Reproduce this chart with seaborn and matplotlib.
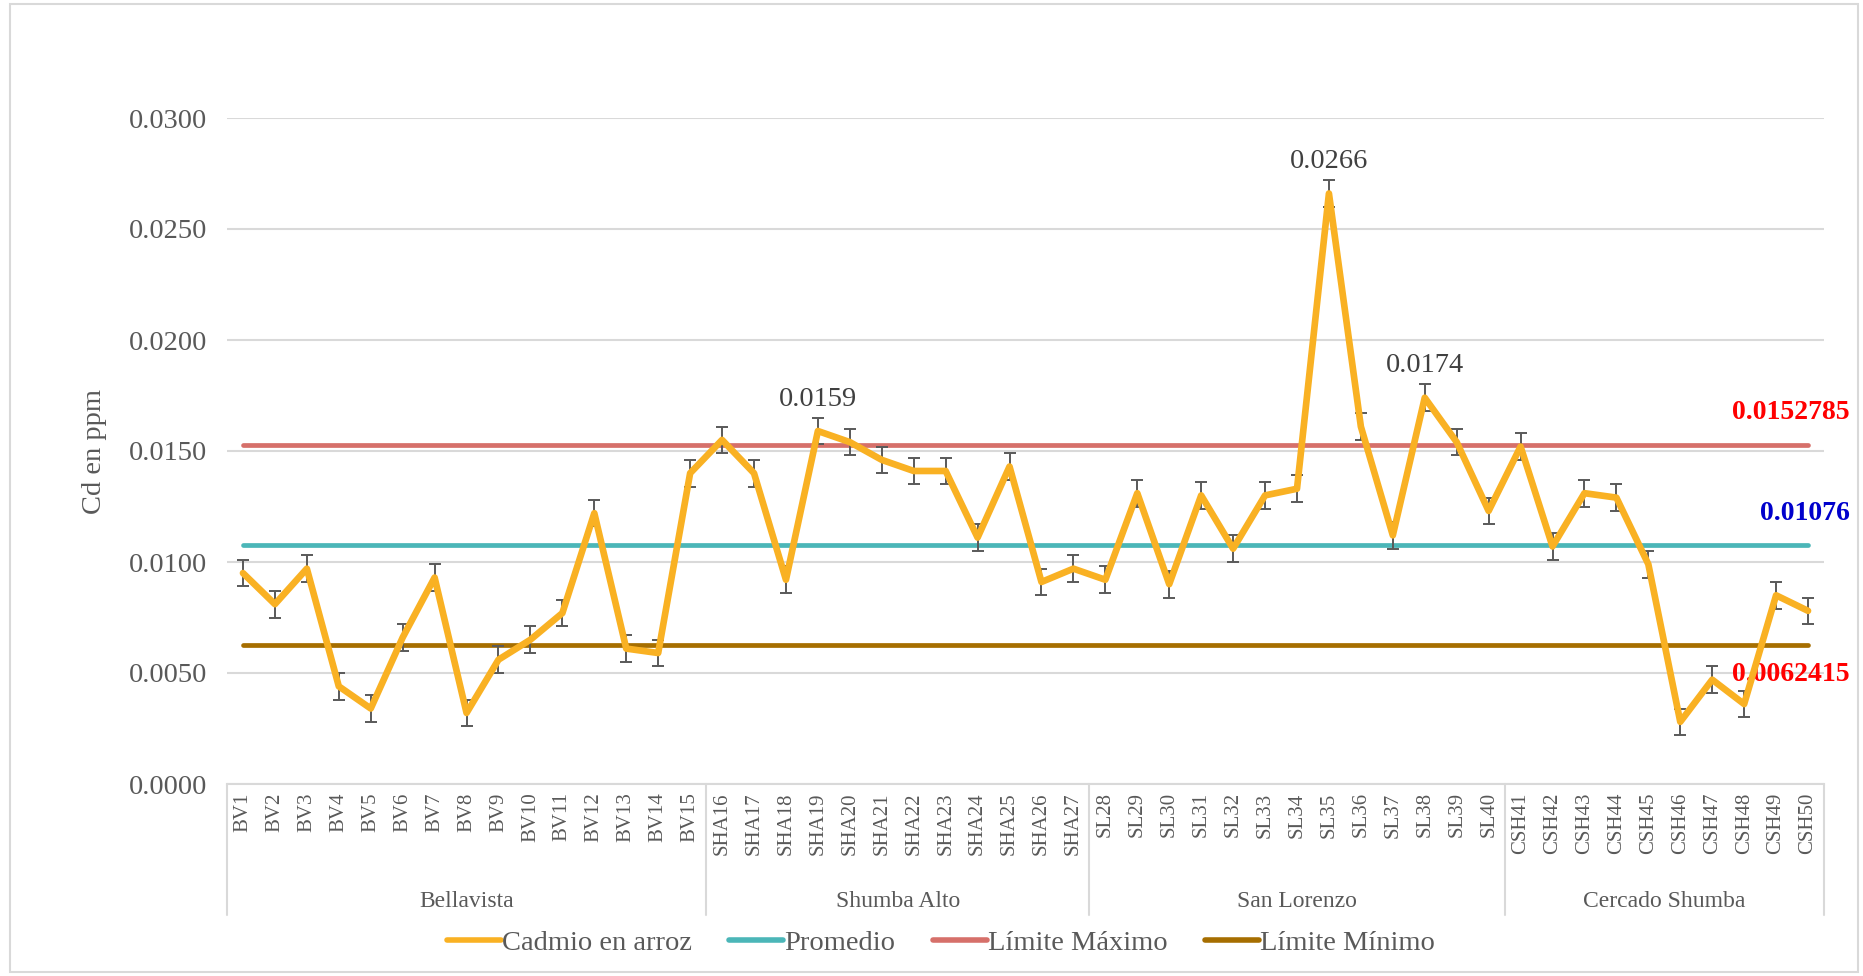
import matplotlib
matplotlib.use("Agg")
import matplotlib.pyplot as plt
import matplotlib.transforms as mtransforms
from matplotlib.lines import Line2D
from matplotlib.patches import Rectangle
import seaborn as sns
import pandas as pd
import numpy as np

# data
muestras = (["BV%d" % i for i in range(1, 16)] + ["SHA%d" % i for i in range(16, 28)]
            + ["SL%d" % i for i in range(28, 41)] + ["CSH%d" % i for i in range(41, 51)])
cadmio = [0.0095, 0.0081, 0.0097, 0.0044, 0.0034, 0.0066, 0.0093, 0.0032, 0.0056, 0.0065,
          0.0077, 0.0122, 0.0061, 0.0059, 0.0140,
          0.0155, 0.0140, 0.0092, 0.0159, 0.0154, 0.0146, 0.0141, 0.0141, 0.0111, 0.0143,
          0.0091, 0.0097,
          0.0092, 0.0131, 0.0090, 0.0130, 0.0106, 0.0130, 0.0133, 0.0266, 0.0161, 0.0112,
          0.0174, 0.0154, 0.0123,
          0.0152, 0.0107, 0.0131, 0.0129, 0.0099, 0.0028, 0.0047, 0.0036, 0.0085, 0.0078]
error = 0.0006
promedio = 0.01076
lim_max = 0.0152785
lim_min = 0.0062415
grupos = ["Bellavista", "Shumba Alto", "San Lorenzo", "Cercado Shumba"]
grupo_n = [15, 12, 13, 10]
destacados = {"SHA19": "0.0159", "SL35": "0.0266", "SL38": "0.0174"}

pos = np.arange(len(muestras))
df = pd.DataFrame({"pos": pos, "muestra": muestras, "cadmio": cadmio,
                   "promedio": promedio, "lim_max": lim_max, "lim_min": lim_min})

c_cad = "#F9B123"
c_prom = "#4BB6B8"
c_max = "#D6706A"
c_min = "#A66E00"
gris = "#595959"

sns.set_style("white")
plt.rcParams["font.family"] = ["Liberation Serif", "DejaVu Serif"]

fig = plt.figure(figsize=(18.63, 9.76), dpi=100)
ax = fig.add_axes([227 / 1863, 1 - 784 / 976, (1824 - 227) / 1863, (784 - 118) / 976])

sns.lineplot(data=df, x="pos", y="promedio", color=c_prom, lw=3.4, ax=ax, zorder=3)
sns.lineplot(data=df, x="pos", y="lim_max", color=c_max, lw=3.4, ax=ax, zorder=3)
sns.lineplot(data=df, x="pos", y="lim_min", color=c_min, lw=3.4, ax=ax, zorder=3)
ax.errorbar(pos, cadmio, yerr=error, fmt="none", ecolor=gris, elinewidth=1.4,
            capsize=4.5, capthick=1.4, zorder=4)
sns.lineplot(data=df, x="pos", y="cadmio", color=c_cad, lw=4.8, ax=ax, zorder=5, sort=False)

ax.set_xlim(-0.5, len(muestras) - 0.5)
ax.set_ylim(0, 0.03)
ax.set_yticks(np.arange(0, 0.0301, 0.005))
ax.set_yticklabels(["%.4f" % v for v in np.arange(0, 0.0301, 0.005)], fontsize=20.5, color=gris)
ax.set_xticks(pos)
ax.set_xticklabels(muestras, rotation=90, fontsize=15, color=gris)
ax.tick_params(axis="both", length=0, pad=6)
ax.tick_params(axis="y", pad=14)
ax.grid(axis="y", color="#D9D9D9", lw=1.5, zorder=0)
for s in ["top", "right", "left"]:
    ax.spines[s].set_visible(False)
ax.spines["bottom"].set_color("#D9D9D9")
ax.spines["bottom"].set_linewidth(1.5)
ax.set_xlabel("")
ax.set_ylabel("Cd en ppm", fontsize=20.5, color=gris, labelpad=16)

# category groups below the axis
trans = mtransforms.blended_transform_factory(ax.transData, ax.transAxes)
bordes = np.concatenate([[0], np.cumsum(grupo_n)]) - 0.5
for b in bordes:
    ax.plot([b, b], [0, -0.197], transform=trans, color="#D9D9D9", lw=1.5, clip_on=False)
for g, a, b in zip(grupos, bordes[:-1], bordes[1:]):
    ax.text((a + b) / 2, -0.176, g, transform=trans, ha="center", va="center",
            fontsize=17, color=gris)

# value labels on peaks
for m, t in destacados.items():
    i = muestras.index(m)
    ax.annotate(t, (pos[i], cadmio[i]), xytext=(0, 23), textcoords="offset points",
                ha="center", va="center", fontsize=20.5, color="#404040", zorder=6)

# labels for the reference lines
xr = len(muestras) - 0.5 + 0.8
ax.annotate("0.0152785", (xr, lim_max), xytext=(0, 23), textcoords="offset points",
            ha="right", va="center", fontsize=20, fontweight="bold", color="#FF0000",
            annotation_clip=False)
ax.annotate("0.01076", (xr, promedio), xytext=(0, 23), textcoords="offset points",
            ha="right", va="center", fontsize=20, fontweight="bold", color="#0000CC",
            annotation_clip=False)
ax.annotate("0.0062415", (xr, lim_min), xytext=(0, -21), textcoords="offset points",
            ha="right", va="center", fontsize=20, fontweight="bold", color="#FF0000",
            annotation_clip=False, zorder=4)

handles = [Line2D([], [], color=c, lw=4) for c in [c_cad, c_prom, c_max, c_min]]
fig.legend(handles, ["Cadmio en arroz", "Promedio", "Límite Máximo", "Límite Mínimo"],
           loc="center", bbox_to_anchor=(0.505, 1 - 943 / 976), ncol=4, frameon=False,
           fontsize=20.5, labelcolor=gris, handlelength=1.9, handletextpad=0.05,
           columnspacing=1.3)

fig.patches.append(Rectangle((10 / 1863, 4 / 976), 1848 / 1863, 968 / 976,
                             transform=fig.transFigure, fill=False, ec="#D9D9D9", lw=1.5))

fig.savefig("out.png", dpi=100)
